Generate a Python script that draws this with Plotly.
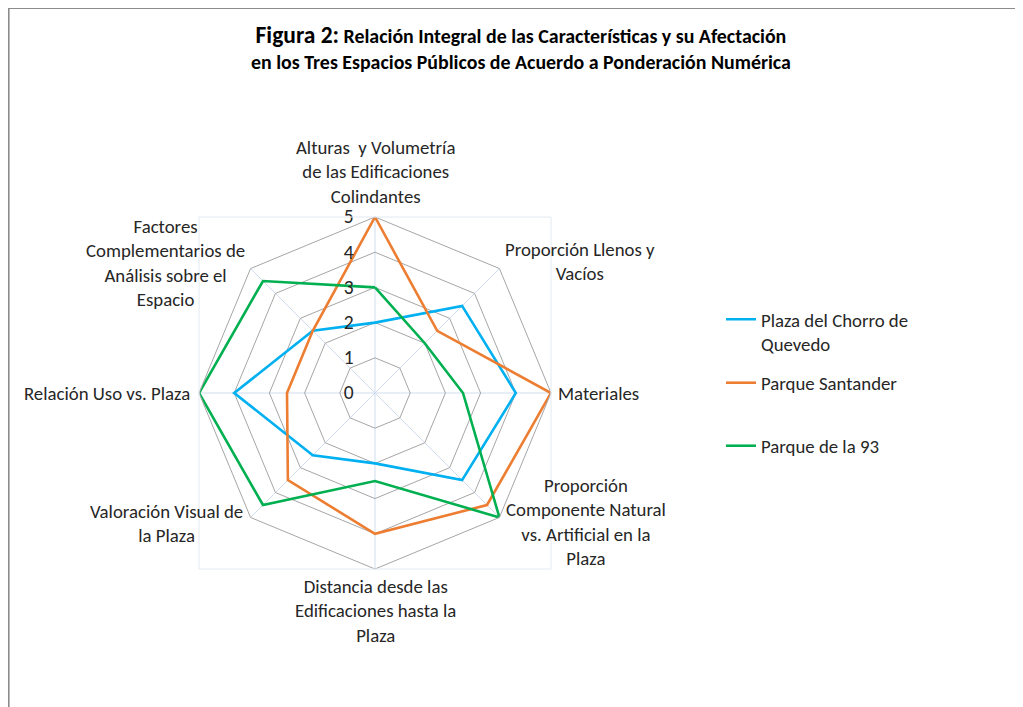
import plotly.graph_objects as go

# categories (clockwise from the top)
categorias = [
    "Alturas  y Volumetría<br>de las Edificaciones<br>Colindantes",
    "Proporción Llenos y<br>Vacíos",
    "Materiales",
    "Proporción<br>Componente Natural<br>vs. Artificial en la<br>Plaza",
    "Distancia desde las<br>Edificaciones hasta la<br>Plaza",
    "Valoración Visual de<br>la Plaza",
    "Relación Uso vs. Plaza",
    "Factores<br>Complementarios de<br>Análisis sobre el<br>Espacio",
]

# values
chorro_quevedo = [2, 3.5, 4, 3.5, 2, 2.5, 4, 2.5]
parque_santander = [5, 2.5, 5, 4.5, 4, 3.5, 2.5, 2.5]
parque_93 = [3, 2, 2.5, 5, 2.5, 4.5, 5, 4.5]

series = [
    ("Plaza del Chorro de<br>Quevedo", chorro_quevedo, "#00B0F0", "legend"),
    ("Parque Santander", parque_santander, "#ED7D31", "legend2"),
    ("Parque de la 93", parque_93, "#00B050", "legend3"),
]

FONT = "Calibri, Carlito, Lato, sans-serif"
TXT = "#262626"
FS = 18.8

W, H = 1023, 707


def px(x):
    return x / W


def py(y):
    return 1 - y / H


fig = go.Figure()
angulos = list(range(len(categorias)))
for nombre, valores, color, leg in series:
    fig.add_trace(go.Scatterpolar(
        r=valores + valores[:1],
        theta=angulos + angulos[:1],
        mode="lines",
        name=nombre,
        line=dict(color=color, width=2.6),
        legend=leg,
    ))

# polar area: centre (367, 385), radius 176 px
cx, cy, rad = 367, 385, 176
dom_x = [px(cx - rad), px(cx + rad)]
dom_y = [py(cy + rad), py(cy - rad)]

# category label centres (px), placed like the Excel text boxes
label_pos = [(367, 164), (572, 254), (590, 385), (578, 514),
             (367, 603), (158, 515), (99, 385), (157, 255)]

anns = []
for txt, (x, y) in zip(categorias, label_pos):
    anns.append(dict(text=txt, x=px(x), y=py(y), xref="paper", yref="paper",
                     xanchor="center", yanchor="middle", showarrow=False,
                     align="center", font=dict(family=FONT, size=FS, color=TXT)))

anns.append(dict(
    text="<b><span style='font-size:23.5px'>Figura 2:</span> Relación Integral de las "
         "Características y su Afectación<br>en los Tres Espacios Públicos de "
         "Acuerdo a Ponderación Numérica</b>",
    x=px(513), y=py(39), xref="paper", yref="paper",
    xanchor="center", yanchor="middle", showarrow=False, align="center",
    font=dict(family=FONT, size=19.9, color="#000000"),
))

leg_common = dict(
    xanchor="left", yanchor="middle", bgcolor="rgba(0,0,0,0)",
    font=dict(family=FONT, size=FS, color=TXT), valign="top",
)

fig.update_layout(
    width=W, height=H,
    margin=dict(l=0, r=0, t=0, b=0),
    paper_bgcolor="white",
    showlegend=True,
    font=dict(family=FONT, size=FS, color=TXT),
    polar=dict(
        domain=dict(x=dom_x, y=dom_y),
        bgcolor="white",
        gridshape="linear",
        radialaxis=dict(
            range=[0, 5], dtick=1, tick0=0, angle=90, tickangle=90,
            showline=False, ticks="outside", ticklen=14,
            tickcolor="rgba(0,0,0,0)",
            gridcolor="#A6A6A6", gridwidth=1,
            tickfont=dict(family=FONT, size=19.5, color=TXT),
            side="counterclockwise",
        ),
        angularaxis=dict(
            type="category",
            tickvals=angulos, ticktext=[""] * len(angulos),
            direction="clockwise", rotation=90,
            showline=True, linecolor="#A6A6A6", linewidth=1,
            gridcolor="#CFDDEE", ticks="",
        ),
    ),
    legend=dict(x=px(713), y=py(323.5), **leg_common),
    legend2=dict(x=px(713), y=py(375), **leg_common),
    legend3=dict(x=px(713), y=py(438), **leg_common),
    annotations=anns,
    shapes=[
        # outer chart frame
        dict(type="rect", xref="paper", yref="paper",
             x0=px(0.8), x1=1.01, y0=-0.01, y1=py(0.3),
             line=dict(color="#8C8C8C", width=1.6)),
        # plot area frame
        dict(type="rect", xref="paper", yref="paper",
             x0=dom_x[0], x1=dom_x[1], y0=dom_y[0], y1=dom_y[1],
             line=dict(color="#E3E9F0", width=1)),
    ],
)

fig.write_html("out.html")
